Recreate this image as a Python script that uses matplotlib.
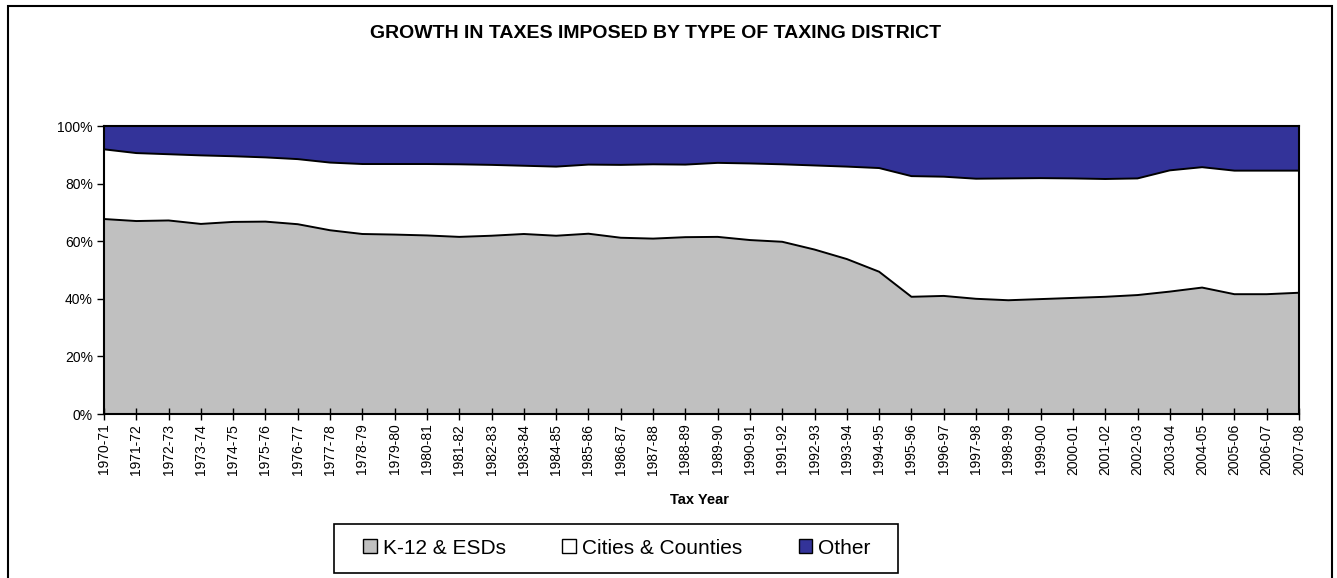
import matplotlib
matplotlib.use("Agg")
import matplotlib.pyplot as plt
from matplotlib.patches import Patch, Rectangle
from matplotlib.ticker import FuncFormatter, MultipleLocator

plt.rcParams['font.family'] = ['Liberation Sans', 'DejaVu Sans']

tax_years = [
    "1970-71", "1971-72", "1972-73", "1973-74", "1974-75", "1975-76", "1976-77",
    "1977-78", "1978-79", "1979-80", "1980-81", "1981-82", "1982-83", "1983-84",
    "1984-85", "1985-86", "1986-87", "1987-88", "1988-89", "1989-90", "1990-91",
    "1991-92", "1992-93", "1993-94", "1994-95", "1995-96", "1996-97", "1997-98",
    "1998-99", "1999-00", "2000-01", "2001-02", "2002-03", "2003-04", "2004-05",
    "2005-06", "2006-07", "2007-08",
]

# Share of taxes imposed (percent) by district type
k12_esds = [67.7, 67.0, 67.2, 66.0, 66.7, 66.8, 65.9, 63.8, 62.5, 62.3, 62.0, 61.5, 61.9,
            62.5, 61.9, 62.6, 61.2, 60.9, 61.4, 61.5, 60.4, 59.8, 57.1, 53.8, 49.4,
            40.7, 41.0, 40.0, 39.5, 39.9, 40.3, 40.7, 41.3, 42.5, 43.9, 41.6, 41.6, 42.1]
cities_counties = [24.2, 23.6, 23.0, 23.8, 22.8, 22.3, 22.6, 23.5, 24.3, 24.5, 24.8, 25.2, 24.6,
                   23.7, 24.0, 24.0, 25.3, 25.8, 25.2, 25.7, 26.6, 26.9, 29.2, 32.1, 36.0,
                   41.9, 41.4, 41.7, 42.3, 42.0, 41.5, 40.9, 40.5, 42.1, 41.8, 42.9, 42.9, 42.4]
other = [8.1, 9.4, 9.8, 10.2, 10.5, 10.9, 11.5, 12.7, 13.2, 13.2, 13.2, 13.3, 13.5,
         13.8, 14.1, 13.4, 13.5, 13.3, 13.4, 12.8, 13.0, 13.3, 13.7, 14.1, 14.6,
         17.4, 17.6, 18.3, 18.2, 18.1, 18.2, 18.4, 18.2, 15.4, 14.3, 15.5, 15.5, 15.5]

series_labels = ["K-12 & ESDs", "Cities & Counties", "Other"]
series_colors = ["#C0C0C0", "#FFFFFF", "#333399"]

W, H = 1337, 578
fig = plt.figure(figsize=(W / 100, H / 100), dpi=100)
fig.patch.set_facecolor("white")

# outer chart frame (open at the bottom edge of the canvas)
fig.add_artist(Rectangle((8 / W, -0.05), (1332 - 8) / W, 1.05 - 6 / H,
                         transform=fig.transFigure, fill=False,
                         edgecolor="black", linewidth=1.5, clip_on=False))

ax = fig.add_axes([104 / W, 1 - 414 / H, (1299 - 104) / W, (414 - 126) / H])

x = list(range(len(tax_years)))
# normalise each year to 100 %
totals = [a + b + c for a, b, c in zip(k12_esds, cities_counties, other)]
s1 = [a / t * 100 for a, t in zip(k12_esds, totals)]
s2 = [b / t * 100 for b, t in zip(cities_counties, totals)]
s3 = [c / t * 100 for c, t in zip(other, totals)]

ax.stackplot(x, s1, s2, s3, colors=series_colors, linewidth=0)
top1 = s1
top2 = [a + b for a, b in zip(s1, s2)]
ax.plot(x, top1, color="black", linewidth=1.4, solid_joinstyle="round")
ax.plot(x, top2, color="black", linewidth=1.4, solid_joinstyle="round")

ax.set_xlim(0, len(tax_years) - 1)
ax.set_ylim(0, 100)
ax.yaxis.set_major_locator(MultipleLocator(20))
ax.yaxis.set_major_formatter(FuncFormatter(lambda v, p: f"{v:.0f}%"))
ax.set_xticks(x)
ax.set_xticklabels(tax_years, rotation=90, fontsize=10)
ax.tick_params(axis="y", labelsize=10, direction="out", length=5, width=1, pad=3)
ax.tick_params(axis="x", direction="inout", length=8, width=1, pad=3)
for s in ax.spines.values():
    s.set_linewidth(1.5)
    s.set_color("black")

fig.text(656 / W, 1 - 33 / H, "GROWTH IN TAXES IMPOSED BY TYPE OF TAXING DISTRICT",
         ha="center", va="center", fontsize=14, fontweight="bold")
fig.text(700 / W, 1 - 500 / H, "Tax Year", ha="center", va="center",
         fontsize=10.5, fontweight="bold")

# legend box
fig.add_artist(Rectangle((334 / W, 1 - 573 / H), (898 - 334) / W, (573 - 524) / H,
                         transform=fig.transFigure, facecolor="white",
                         edgecolor="black", linewidth=1.2))
handles = [Patch(facecolor=c, edgecolor="black", linewidth=1) for c in series_colors]
leg = fig.legend(handles, series_labels, loc="center",
                 bbox_to_anchor=(617 / W, 1 - 548 / H), ncol=3, fontsize=15,
                 frameon=False, handlelength=0.65, handleheight=0.65,
                 handletextpad=0.3, columnspacing=2.7, borderpad=0, borderaxespad=0)

fig.savefig("out.png", dpi=100)
